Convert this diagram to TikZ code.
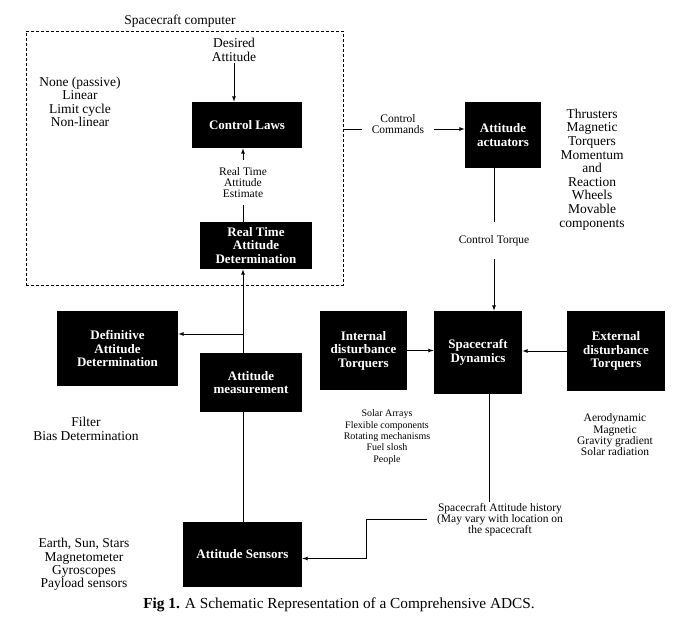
\documentclass[tikz,border=0pt]{standalone}
\usepackage{fontspec}
\setmainfont{Liberation Serif}
\tikzset{
  block/.style  = {shape=rectangle, fill=black, text=white, align=center,
                   inner sep=0pt, font=\fontsize{13}{13.5}\selectfont\bfseries},
  note/.style   = {align=center, inner sep=1pt,
                   font=\fontsize{13.5}{13.4}\selectfont},
  small/.style  = {align=center, inner sep=1pt,
                   font=\fontsize{11.5}{11.3}\selectfont},
  tiny/.style   = {align=center, inner sep=1pt,
                   font=\fontsize{10}{11.4}\selectfont},
  frame/.style  = {draw, dash pattern=on 3pt off 2pt, line width=0.7pt}
}

\begin{document}
\begin{tikzpicture}
  [
    x=1pt, y=-1pt,
    >=latex,
    line width=0.8pt
  ]
  \useasboundingbox (0,0) rectangle (687,623);

  % spacecraft computer
  \node [frame, minimum width=317, minimum height=254] (comp) at (184.5,158) {};
  \node [note] (comptitle) at (180,21) {Spacecraft computer};
  \node [note] (desired) at (234,50) {Desired\\Attitude};
  \node [note] (laws) at (80,102) {None (passive)\\Linear\\Limit cycle\\Non-linear};
  \node [block, minimum width=110, minimum height=46] (ctrl) at (247,125) {Control Laws};
  \node [small, font=\fontsize{11.5}{10.6}\selectfont, inner sep=0pt, minimum height=45]
        (est) at (243,182.5) {Real Time\\Attitude\\Estimate};
  \node [block, minimum width=112, minimum height=47] (rtad) at (256,245.5)
        {Real Time\\Attitude\\Determination};

  % actuators
  \node [small, inner xsep=9pt] (cmd) at (398,124) {Control\\Commands};
  \node [block, minimum width=76, minimum height=66] (act) at (503,135)
        {Attitude\\actuators};
  \node [note, font=\fontsize{13.5}{13.6}\selectfont] (actlist) at (592,169.5)
        {Thrusters\\Magnetic\\Torquers\\Momentum\\and\\Reaction\\Wheels\\Movable\\components};
  \node [small, inner sep=0pt, minimum height=37] (torq) at (494,240.5) {Control Torque};

  % dynamics
  \node [block, minimum width=88, minimum height=83] (dyn) at (478,352.5)
        {Spacecraft\\Dynamics};
  \node [block, minimum width=87, minimum height=79] (intd) at (363.5,350.5)
        {Internal\\disturbance\\Torquers};
  \node [block, minimum width=98, minimum height=80] (extd) at (616,351)
        {External\\disturbance\\Torquers};
  \node [tiny] (intlist) at (387,437)
        {Solar Arrays\\Flexible components\\Rotating mechanisms\\Fuel slosh\\People};
  \node [small] (extlist) at (615,435)
        {Aerodynamic\\Magnetic\\Gravity gradient\\Solar radiation};
  \node [small, inner xsep=10pt] (hist) at (500,519.5)
        {Spacecraft Attitude history\\(May vary with location on\\the spacecraft};

  % determination and sensors
  \node [block, minimum width=121, minimum height=75] (defin) at (117.5,348.5)
        {Definitive\\Attitude\\Determination};
  \node [block, minimum width=102, minimum height=59] (meas) at (251,382.5)
        {Attitude\\measurement};
  \node [note] (filt) at (86,429) {Filter\\Bias Determination};
  \node [block, minimum width=119, minimum height=65] (sens) at (242.5,554.5)
        {Attitude Sensors};
  \node [note] (senslist) at (84,564.5)
        {Earth, Sun, Stars\\Magnetometer\\Gyroscopes\\Payload sensors};

  \node (caption) at (339,605)
        {\fontsize{15.3}{17}\selectfont\textbf{Fig 1.} A Schematic Representation of a Comprehensive ADCS.};

  % connectors
  \coordinate (spine)  at (243,0);
  \coordinate (branch) at (243,334);
  \coordinate (cc)     at (0,129);
  \coordinate (drop)   at (489,0);

  \draw [->] (desired.south) -- (ctrl.north -| desired.south);
  \draw [->] (est.north) -- (ctrl.south -| est.north);
  \draw (rtad.north -| est.south) -- (est.south);
  \draw [->] (meas.north -| spine) -- (rtad.south -| spine);
  \draw [->] (branch) -- (defin.east |- branch);
  \draw (sens.north -| spine) -- (meas.south -| spine);

  \draw (comp.east |- cc) -- (cmd.west |- cc);
  \draw [->] (cmd.east |- cc) -- (act.west |- cc);
  \draw (act.south -| torq) -- (torq.north);
  \draw [->] (torq.south) -- (dyn.north -| torq);

  \draw [->] (intd.east) -- (dyn.west |- intd.east);
  \draw [->] (extd.west) -- (dyn.east |- extd.west);

  \draw (dyn.south -| drop) -- (hist.north -| drop);
  \draw [->] (hist.west) -- ++(-60,0) |- ([yshift=-4pt]sens.east);
\end{tikzpicture}
\end{document}
